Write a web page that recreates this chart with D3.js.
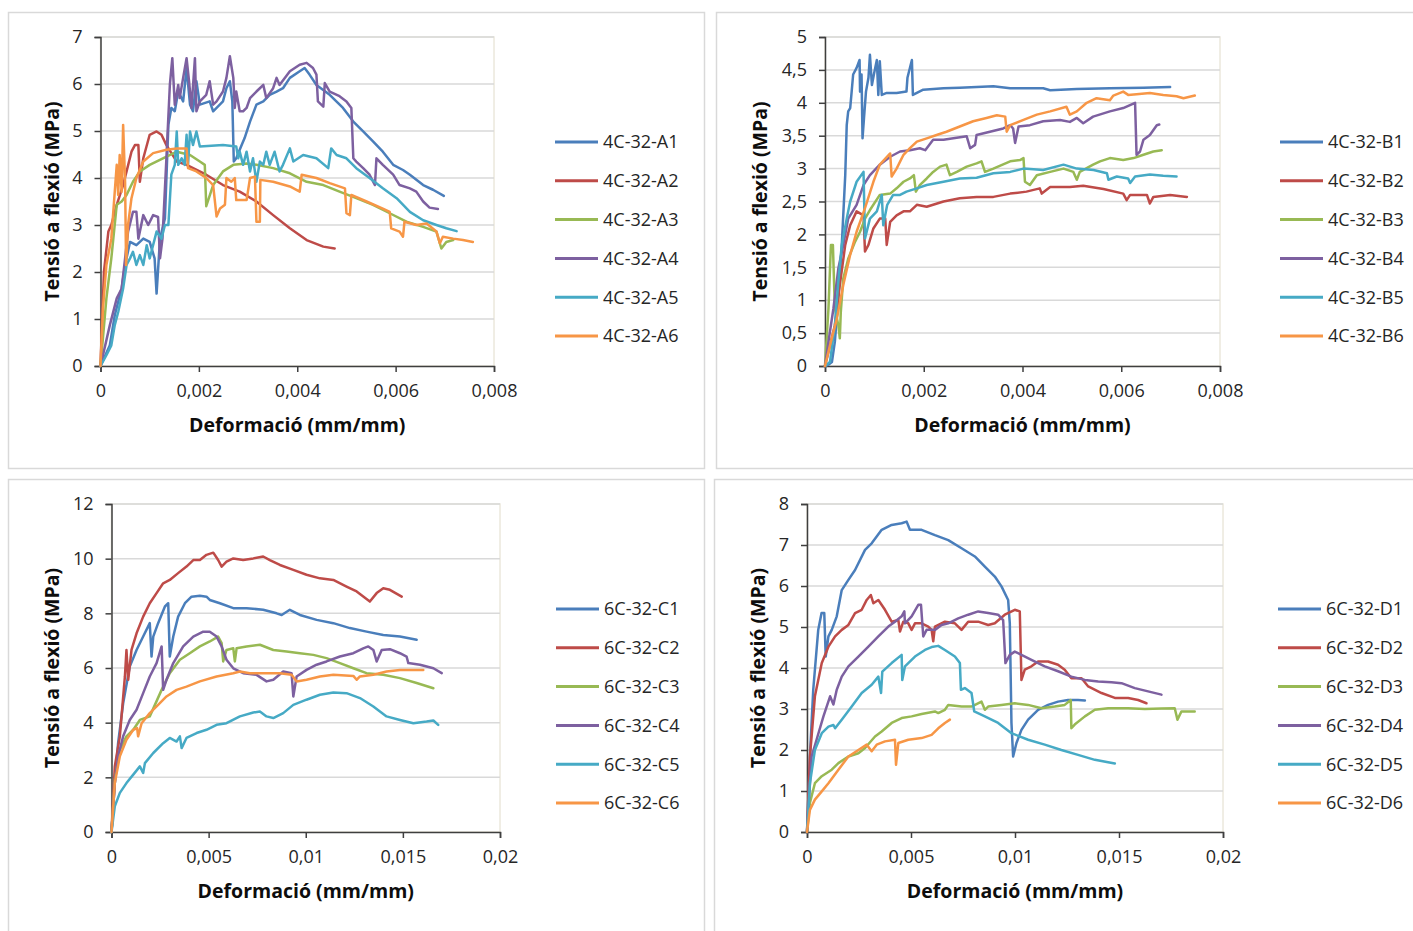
<!DOCTYPE html>
<html>
<head>
<meta charset="utf-8">
<script src="https://cdn.jsdelivr.net/npm/d3@7"></script>
<style>
  html, body { margin: 0; padding: 0; background: #ffffff; }
  svg { display: block; font-family: "Open Sans", "Noto Sans", sans-serif; }
</style>
</head>
<body>
<svg id="chart" width="1413" height="931"></svg>
<script>
// ---------- Series: [strain (mm/mm), flexural stress (MPa)] ----------

// 4C-32-A
const a1 = [[0,0],[0.00019,0.44],[0.00029,1.08],[0.00043,1.65],[0.0005,2.15],[0.0006,2.64],[0.00073,2.57],[0.00087,2.71],[0.001,2.64],[0.0011,2.29],[0.00114,1.54],[0.00121,2.71],[0.00131,3.14],[0.00138,5.13],[0.00144,5.49],[0.00151,5.42],[0.00158,5.84],[0.00168,5.63],[0.00175,6.34],[0.00182,5.56],[0.00188,5.42],[0.00195,6.06],[0.00202,5.56],[0.00222,5.63],[0.00229,5.42],[0.00249,5.63],[0.00256,5.91],[0.00263,6.06],[0.00268,5.63],[0.00271,4.35],[0.00276,4.42],[0.00287,4.7],[0.00293,4.85],[0.00304,5.2],[0.00317,5.56],[0.00331,5.63],[0.00344,5.77],[0.00358,5.84],[0.00371,5.91],[0.00385,6.13],[0.00405,6.27],[0.00415,6.34],[0.00425,6.2],[0.00439,5.98],[0.00466,5.77],[0.00493,5.49],[0.00514,5.2],[0.00534,4.99],[0.00554,4.78],[0.00574,4.56],[0.00595,4.28],[0.00615,4.17],[0.00629,4.07],[0.00656,3.85],[0.00676,3.75],[0.00698,3.62]];
const a2 = [[0,0],[0.00003,0.87],[0.00007,2.0],[0.00016,2.86],[0.00022,3.0],[0.00033,3.43],[0.00046,3.85],[0.00053,4.14],[0.00063,4.56],[0.0007,4.7],[0.00077,4.7],[0.0008,3.92],[0.00087,4.42],[0.001,4.92],[0.00114,4.99],[0.00124,4.92],[0.00134,4.7],[0.00155,4.35],[0.00175,4.28],[0.00215,4.07],[0.00249,3.85],[0.00283,3.71],[0.00317,3.5],[0.00351,3.21],[0.00385,2.93],[0.00419,2.68],[0.00453,2.54],[0.00476,2.5]];
const a3 = [[0,0],[0.00012,1.44],[0.00022,2.29],[0.00033,3.43],[0.00043,3.5],[0.00053,3.64],[0.00066,3.92],[0.0008,4.14],[0.001,4.28],[0.00127,4.42],[0.00155,4.56],[0.00182,4.49],[0.00202,4.35],[0.00212,4.28],[0.00215,3.4],[0.00229,3.85],[0.00249,4.14],[0.0027,4.28],[0.00297,4.31],[0.00317,4.28],[0.00351,4.21],[0.00385,4.1],[0.00419,3.92],[0.00453,3.85],[0.00486,3.71],[0.0052,3.57],[0.00554,3.43],[0.00588,3.25],[0.00622,3.07],[0.00656,2.96],[0.00683,2.86],[0.00693,2.5],[0.00703,2.64],[0.00717,2.68]];
const a4 = [[0,0],[0.00019,0.87],[0.00033,1.44],[0.00043,1.65],[0.0005,2.29],[0.00056,2.86],[0.00066,3.28],[0.00073,3.28],[0.00077,2.71],[0.00087,3.21],[0.00097,3.0],[0.00107,3.21],[0.00117,3.17],[0.00121,2.29],[0.00126,2.71],[0.00134,4.42],[0.00141,5.98],[0.00146,6.55],[0.00151,5.56],[0.00158,5.98],[0.00161,5.7],[0.00168,6.13],[0.00175,6.55],[0.0018,6.06],[0.00185,5.49],[0.00192,6.55],[0.00195,5.42],[0.00202,5.63],[0.00215,5.77],[0.00222,6.06],[0.00229,5.56],[0.00236,5.63],[0.00249,5.84],[0.00256,6.13],[0.00263,6.59],[0.0027,6.13],[0.00273,5.49],[0.00276,5.84],[0.00283,5.42],[0.0029,5.42],[0.00297,5.49],[0.00304,5.7],[0.00317,5.84],[0.00324,5.91],[0.00331,5.98],[0.00337,5.7],[0.00351,5.91],[0.00358,6.13],[0.00364,5.98],[0.00385,6.27],[0.00405,6.41],[0.00419,6.45],[0.00432,6.34],[0.00439,6.2],[0.00442,5.63],[0.00453,5.52],[0.00456,6.02],[0.00466,5.84],[0.00486,5.74],[0.005,5.63],[0.0051,5.49],[0.00514,4.42],[0.0052,4.35],[0.00534,4.21],[0.00547,4.07],[0.00558,3.85],[0.00561,4.42],[0.00574,4.28],[0.00595,4.07],[0.00608,3.85],[0.00629,3.78],[0.00642,3.71],[0.00656,3.5],[0.00669,3.37],[0.00686,3.34]];
const a5 = [[0,0],[0.00012,0.23],[0.00022,0.44],[0.00029,0.87],[0.00036,1.15],[0.00046,1.65],[0.00053,2.15],[0.0006,2.29],[0.00066,2.43],[0.00073,2.15],[0.0008,2.36],[0.00087,2.15],[0.00094,2.57],[0.001,2.29],[0.00114,2.86],[0.00124,2.71],[0.00131,3.0],[0.00138,3.0],[0.00144,4.07],[0.00151,4.28],[0.00155,4.99],[0.00158,4.28],[0.00165,4.42],[0.00171,4.28],[0.00175,4.92],[0.00178,4.28],[0.00182,4.99],[0.00188,4.7],[0.00195,4.99],[0.00202,4.67],[0.00249,4.7],[0.00276,4.67],[0.0028,4.42],[0.00283,4.56],[0.0029,4.28],[0.00297,4.56],[0.00304,4.14],[0.0031,4.42],[0.00317,3.92],[0.00324,4.35],[0.00331,4.28],[0.00337,4.56],[0.00344,4.28],[0.00354,4.56],[0.00364,4.14],[0.00371,4.28],[0.00385,4.63],[0.00392,4.35],[0.00412,4.49],[0.00439,4.42],[0.00463,4.21],[0.00469,4.63],[0.0048,4.49],[0.005,4.42],[0.0052,4.21],[0.00547,4.0],[0.00574,3.78],[0.00602,3.57],[0.00629,3.28],[0.00656,3.1],[0.00683,3.0],[0.00703,2.93],[0.00724,2.87]];
const a6 = [[0,0],[0.00005,1.22],[0.00012,2.15],[0.00022,2.71],[0.00029,3.71],[0.00033,4.28],[0.00036,3.64],[0.00039,4.49],[0.00043,3.71],[0.00046,5.13],[0.0005,3.92],[0.00052,2.15],[0.00056,3.0],[0.00063,3.57],[0.00073,4.0],[0.00087,4.35],[0.00107,4.53],[0.00134,4.6],[0.00155,4.63],[0.00175,4.63],[0.00178,4.21],[0.00195,4.14],[0.00215,4.0],[0.00229,3.85],[0.00236,3.18],[0.00243,3.35],[0.00253,3.43],[0.00256,4.0],[0.00266,3.92],[0.00273,4.0],[0.00276,3.53],[0.00297,3.53],[0.00304,4.0],[0.00314,4.03],[0.00317,3.07],[0.00324,3.07],[0.00325,3.96],[0.00351,3.92],[0.00385,3.82],[0.00405,3.71],[0.00409,4.07],[0.00439,4.0],[0.00466,3.89],[0.00497,3.78],[0.005,3.25],[0.00507,3.21],[0.0051,3.64],[0.00541,3.5],[0.00574,3.35],[0.00588,3.28],[0.00591,2.93],[0.00608,2.86],[0.00615,2.75],[0.00618,3.07],[0.00642,3.0],[0.00663,3.03],[0.00683,2.86],[0.0069,2.61],[0.00696,2.75],[0.00717,2.71],[0.00737,2.68],[0.00757,2.64]];

// 4C-32-B
const b1 = [[0,0],[0.00007,0.02],[0.00014,0.06],[0.0002,0.37],[0.00027,1.03],[0.00034,1.84],[0.00041,2.9],[0.00044,3.66],[0.00047,3.87],[0.00051,3.92],[0.00054,4.17],[0.00057,4.43],[0.00064,4.53],[0.0007,4.65],[0.00071,4.17],[0.00074,4.43],[0.00076,3.46],[0.00079,3.77],[0.00083,4.17],[0.00088,4.38],[0.00091,4.73],[0.00095,4.27],[0.00099,4.43],[0.00105,4.65],[0.00108,4.12],[0.00111,4.63],[0.00115,4.12],[0.00125,4.15],[0.00145,4.15],[0.00165,4.17],[0.00167,4.38],[0.00176,4.65],[0.00178,4.12],[0.00199,4.2],[0.0024,4.22],[0.00273,4.23],[0.00341,4.25],[0.00375,4.22],[0.00442,4.22],[0.00456,4.19],[0.0051,4.21],[0.00577,4.22],[0.00645,4.23],[0.00699,4.24]];
const b2 = [[0,0],[0.0001,0.31],[0.0002,0.62],[0.0003,1.23],[0.00041,1.84],[0.00051,2.14],[0.00064,2.35],[0.00078,2.29],[0.00081,1.74],[0.00088,1.84],[0.00098,2.09],[0.00111,2.24],[0.00122,2.24],[0.00125,1.84],[0.00132,2.19],[0.00145,2.29],[0.00159,2.35],[0.00172,2.35],[0.00186,2.45],[0.00206,2.42],[0.0024,2.5],[0.00273,2.55],[0.00307,2.57],[0.00341,2.57],[0.00375,2.62],[0.00408,2.65],[0.00435,2.7],[0.00439,2.62],[0.00456,2.72],[0.00496,2.72],[0.00523,2.74],[0.00564,2.69],[0.00604,2.62],[0.00611,2.52],[0.00618,2.6],[0.00652,2.6],[0.00658,2.47],[0.00665,2.57],[0.00699,2.6],[0.00733,2.57]];
const b3 = [[0,0],[0.00007,0.87],[0.00012,1.84],[0.00016,1.84],[0.0002,0.87],[0.00027,0.62],[0.0003,0.42],[0.00032,0.82],[0.00037,1.33],[0.00047,1.63],[0.00061,1.89],[0.00071,2.04],[0.00081,2.24],[0.00091,2.37],[0.00111,2.6],[0.00132,2.62],[0.00145,2.7],[0.00159,2.8],[0.00172,2.85],[0.0018,2.9],[0.00184,2.65],[0.00192,2.75],[0.00206,2.85],[0.00219,2.95],[0.00233,3.03],[0.00246,3.06],[0.00253,2.9],[0.00267,2.95],[0.00287,3.03],[0.00307,3.08],[0.00317,3.11],[0.00324,2.95],[0.00341,3.0],[0.00375,3.11],[0.00395,3.13],[0.00402,3.16],[0.00405,2.8],[0.00415,2.75],[0.00429,2.9],[0.00456,2.95],[0.00483,3.0],[0.00503,2.95],[0.0051,2.83],[0.00516,2.95],[0.00543,3.06],[0.00557,3.11],[0.00577,3.16],[0.00604,3.13],[0.00625,3.16],[0.00645,3.21],[0.00665,3.26],[0.00682,3.28]];
const b4 = [[0,0],[0.00007,0.37],[0.00017,0.87],[0.00027,1.48],[0.00037,1.84],[0.00047,2.24],[0.00064,2.45],[0.00078,2.75],[0.00091,2.9],[0.00111,3.06],[0.00132,3.18],[0.00152,3.26],[0.00172,3.28],[0.00192,3.31],[0.00203,3.28],[0.00219,3.44],[0.0024,3.44],[0.0026,3.46],[0.00287,3.49],[0.00294,3.31],[0.00304,3.36],[0.00307,3.51],[0.00334,3.56],[0.00361,3.61],[0.00375,3.66],[0.00381,3.61],[0.00385,3.39],[0.00392,3.64],[0.00415,3.66],[0.00442,3.72],[0.00476,3.74],[0.00496,3.71],[0.0051,3.77],[0.00523,3.69],[0.00543,3.79],[0.00577,3.87],[0.00604,3.92],[0.00628,4.0],[0.00631,3.21],[0.00638,3.26],[0.00645,3.44],[0.00658,3.51],[0.00672,3.66],[0.00677,3.67]];
const b5 = [[0,0],[0.0001,0.06],[0.0002,0.62],[0.00027,1.28],[0.00034,1.84],[0.00044,2.24],[0.00051,2.5],[0.00064,2.8],[0.00078,2.95],[0.00081,1.94],[0.00091,2.24],[0.00105,2.35],[0.00115,2.6],[0.00118,2.14],[0.00126,2.45],[0.00138,2.6],[0.00152,2.6],[0.00165,2.65],[0.00186,2.7],[0.00206,2.75],[0.0024,2.8],[0.00273,2.85],[0.00307,2.86],[0.00341,2.93],[0.00375,2.95],[0.00402,3.0],[0.00442,2.98],[0.00483,3.06],[0.0051,3.0],[0.00544,2.98],[0.00571,2.93],[0.00574,2.83],[0.00591,2.88],[0.00614,2.85],[0.00618,2.78],[0.00628,2.88],[0.00658,2.91],[0.00685,2.89],[0.00712,2.88]];
const b6 = [[0,0],[0.0001,0.31],[0.00024,0.72],[0.00037,1.23],[0.00051,1.69],[0.00064,2.04],[0.00081,2.4],[0.00098,2.8],[0.00111,3.06],[0.00132,3.23],[0.00135,2.88],[0.00145,3.0],[0.00159,3.21],[0.00172,3.31],[0.00186,3.41],[0.00206,3.46],[0.00226,3.51],[0.00246,3.56],[0.00273,3.64],[0.003,3.72],[0.00327,3.77],[0.00348,3.81],[0.00365,3.79],[0.00368,3.56],[0.00375,3.66],[0.00402,3.74],[0.00429,3.82],[0.00456,3.87],[0.00489,3.94],[0.00496,3.82],[0.0051,3.87],[0.0053,4.0],[0.0055,4.07],[0.00577,4.04],[0.00584,4.11],[0.00604,4.17],[0.00614,4.12],[0.00631,4.13],[0.00658,4.15],[0.00685,4.12],[0.00712,4.1],[0.00726,4.07],[0.00749,4.11]];

// 6C-32-C
const c1 = [[0,0],[0.00017,1.79],[0.00034,3.25],[0.0006,4.71],[0.00094,6.05],[0.00129,6.66],[0.00163,7.15],[0.00197,7.64],[0.00206,6.42],[0.00215,7.15],[0.0024,7.64],[0.00275,8.25],[0.00292,8.37],[0.003,6.42],[0.00318,7.15],[0.00343,7.88],[0.00378,8.37],[0.00412,8.61],[0.00455,8.64],[0.00489,8.61],[0.00506,8.49],[0.00558,8.37],[0.00627,8.19],[0.00695,8.19],[0.00781,8.13],[0.0085,8.0],[0.00876,7.94],[0.00918,8.13],[0.0097,7.94],[0.01056,7.76],[0.01142,7.64],[0.01227,7.46],[0.01313,7.33],[0.01399,7.21],[0.01485,7.15],[0.01571,7.03]];
const c2 = [[0,0],[0.00017,2.4],[0.00043,3.5],[0.00069,5.69],[0.00077,6.66],[0.00086,5.57],[0.00103,6.66],[0.00129,7.27],[0.00163,7.88],[0.00197,8.37],[0.00232,8.74],[0.00266,9.1],[0.003,9.22],[0.00343,9.47],[0.00386,9.71],[0.00421,9.95],[0.00455,9.95],[0.00489,10.14],[0.00524,10.22],[0.00549,9.95],[0.00567,9.71],[0.00592,9.89],[0.00627,10.01],[0.00678,9.95],[0.0073,10.01],[0.00781,10.08],[0.00815,9.95],[0.00867,9.77],[0.00936,9.59],[0.01004,9.41],[0.01073,9.28],[0.01142,9.22],[0.0121,8.98],[0.01262,8.8],[0.0133,8.43],[0.01365,8.74],[0.01399,8.92],[0.01433,8.86],[0.01494,8.61]];
const c3 = [[0,0],[0.00017,1.91],[0.00043,3.0],[0.00077,3.5],[0.00112,3.74],[0.00146,4.1],[0.00197,4.23],[0.00258,5.2],[0.003,5.81],[0.00352,6.3],[0.00403,6.54],[0.00455,6.79],[0.00506,6.97],[0.00549,7.15],[0.00567,6.91],[0.00575,6.24],[0.00592,6.66],[0.00627,6.72],[0.00635,6.24],[0.00644,6.72],[0.00695,6.79],[0.00764,6.85],[0.00833,6.66],[0.00901,6.6],[0.0097,6.54],[0.01039,6.48],[0.01107,6.36],[0.01176,6.18],[0.01245,5.99],[0.01313,5.81],[0.01399,5.75],[0.01485,5.63],[0.01571,5.45],[0.01657,5.26]];
const c4 = [[0,0],[0.00017,1.79],[0.00034,2.77],[0.0006,3.5],[0.00094,4.1],[0.00129,4.47],[0.00163,5.08],[0.00197,5.69],[0.00232,6.18],[0.00258,6.79],[0.00266,5.2],[0.00283,5.57],[0.00318,6.18],[0.00369,6.79],[0.00421,7.15],[0.00472,7.33],[0.00506,7.33],[0.00541,7.15],[0.00567,6.79],[0.00592,6.3],[0.00627,5.99],[0.00678,5.81],[0.00747,5.75],[0.00798,5.51],[0.00833,5.57],[0.00884,5.87],[0.00927,5.81],[0.00936,4.96],[0.00953,5.69],[0.01004,5.93],[0.01056,6.12],[0.01107,6.24],[0.01176,6.42],[0.01245,6.54],[0.01296,6.72],[0.01322,6.79],[0.01348,6.66],[0.01365,6.24],[0.01391,6.66],[0.01433,6.69],[0.01485,6.54],[0.01519,6.42],[0.01528,6.18],[0.01588,6.12],[0.01657,5.99],[0.017,5.81]];
const c5 = [[0,0],[0.00017,0.94],[0.00043,1.43],[0.00077,1.79],[0.00112,2.1],[0.00146,2.4],[0.00163,2.16],[0.00172,2.52],[0.00215,2.89],[0.00266,3.25],[0.003,3.44],[0.00335,3.31],[0.00352,3.5],[0.00361,3.07],[0.00386,3.44],[0.00438,3.62],[0.00489,3.74],[0.00541,3.92],[0.00592,3.98],[0.00661,4.23],[0.0073,4.37],[0.00764,4.41],[0.00798,4.23],[0.00833,4.17],[0.00884,4.35],[0.00936,4.65],[0.01004,4.84],[0.01073,5.02],[0.01142,5.1],[0.0121,5.08],[0.01279,4.9],[0.01348,4.59],[0.01416,4.23],[0.01485,4.1],[0.01554,3.98],[0.01622,4.04],[0.01657,4.08],[0.01682,3.92]];
const c6 = [[0,0],[0.00017,1.79],[0.00043,2.77],[0.00077,3.37],[0.00112,3.74],[0.00132,3.8],[0.00137,3.5],[0.00155,3.98],[0.00197,4.35],[0.0024,4.65],[0.00283,4.96],[0.00335,5.2],[0.00386,5.32],[0.00455,5.51],[0.00541,5.69],[0.00627,5.81],[0.00661,5.87],[0.00712,5.81],[0.00798,5.81],[0.00867,5.81],[0.00927,5.75],[0.00953,5.51],[0.01004,5.57],[0.01073,5.69],[0.01142,5.75],[0.01245,5.71],[0.01262,5.57],[0.01279,5.69],[0.01348,5.75],[0.01416,5.87],[0.01485,5.93],[0.01605,5.93]];

// 6C-32-D
const d1 = [[0,0],[0.00014,1.84],[0.0003,3.47],[0.00054,4.93],[0.0007,5.34],[0.00083,5.34],[0.0009,4.28],[0.00103,4.77],[0.00119,4.93],[0.00143,5.26],[0.00167,5.9],[0.00199,6.15],[0.00231,6.39],[0.00279,6.88],[0.00311,7.04],[0.00359,7.37],[0.00407,7.49],[0.00455,7.53],[0.00479,7.57],[0.00495,7.37],[0.00551,7.37],[0.00615,7.24],[0.00679,7.12],[0.00743,6.92],[0.00807,6.72],[0.00855,6.47],[0.00903,6.23],[0.00935,5.99],[0.00967,5.66],[0.00975,5.09],[0.00983,2.66],[0.00991,1.84],[0.01007,2.17],[0.01031,2.49],[0.01063,2.74],[0.01111,2.98],[0.01159,3.1],[0.01207,3.18],[0.01255,3.22],[0.01303,3.22],[0.01336,3.21]];
const d2 = [[0,0],[0.00014,1.84],[0.00038,3.31],[0.00071,4.12],[0.00103,4.52],[0.00135,4.77],[0.00167,4.93],[0.00199,5.05],[0.00231,5.34],[0.00263,5.42],[0.00287,5.66],[0.00307,5.78],[0.00319,5.58],[0.00343,5.66],[0.00375,5.42],[0.00407,5.13],[0.00439,5.17],[0.00447,4.89],[0.00463,5.13],[0.00487,5.09],[0.00503,4.93],[0.00519,5.09],[0.00551,5.09],[0.00583,5.01],[0.00599,4.93],[0.00607,4.65],[0.00615,5.01],[0.00663,5.13],[0.00711,5.09],[0.00743,4.93],[0.00775,5.13],[0.00823,5.13],[0.00871,5.05],[0.00903,5.09],[0.00951,5.3],[0.00999,5.42],[0.01023,5.38],[0.01031,3.71],[0.01047,3.96],[0.01079,4.04],[0.01111,4.16],[0.01159,4.16],[0.01207,4.08],[0.01239,3.96],[0.01271,3.75],[0.0132,3.75],[0.01352,3.55],[0.01416,3.39],[0.0148,3.27],[0.01544,3.27],[0.01592,3.22],[0.01632,3.14]];
const d3s = [[0,0],[0.00014,0.71],[0.00038,1.19],[0.00071,1.36],[0.00119,1.52],[0.00151,1.68],[0.00199,1.84],[0.00247,1.92],[0.00279,2.05],[0.00327,2.33],[0.00359,2.45],[0.00407,2.66],[0.00455,2.78],[0.00503,2.82],[0.00551,2.88],[0.00615,2.94],[0.00631,2.9],[0.00663,2.98],[0.00679,3.1],[0.00743,3.06],[0.00791,3.06],[0.00839,3.18],[0.00855,2.98],[0.00871,3.06],[0.00935,3.1],[0.00999,3.14],[0.01063,3.1],[0.01127,3.02],[0.01191,3.06],[0.01239,3.1],[0.01268,3.22],[0.01271,2.53],[0.01287,2.62],[0.01336,2.82],[0.01384,2.98],[0.01448,3.02],[0.01544,3.02],[0.01624,3.0],[0.01704,3.01],[0.01768,3.02],[0.01781,2.74],[0.018,2.94],[0.01864,2.94]];
const d4 = [[0,0],[0.00022,1.84],[0.00046,2.25],[0.00079,2.82],[0.00111,3.31],[0.00127,3.11],[0.00143,3.47],[0.00167,3.79],[0.00199,4.04],[0.00247,4.28],[0.00295,4.52],[0.00343,4.77],[0.00391,5.01],[0.00423,5.13],[0.00455,5.26],[0.00468,5.38],[0.00471,5.09],[0.00503,5.26],[0.00535,5.54],[0.00548,5.54],[0.00559,4.77],[0.00575,4.93],[0.00615,4.93],[0.00647,5.05],[0.00679,5.09],[0.00727,5.21],[0.00775,5.3],[0.00823,5.38],[0.00871,5.34],[0.00919,5.3],[0.00943,5.17],[0.00954,4.12],[0.00975,4.32],[0.00999,4.4],[0.01031,4.32],[0.01079,4.2],[0.01143,4.04],[0.01207,3.92],[0.01271,3.79],[0.01336,3.71],[0.014,3.67],[0.01464,3.65],[0.01512,3.63],[0.01576,3.51],[0.0164,3.43],[0.01704,3.35]];
const d5 = [[0,0],[0.00014,1.19],[0.00038,2.0],[0.00071,2.41],[0.00103,2.57],[0.00127,2.61],[0.00135,2.53],[0.00167,2.74],[0.00215,3.06],[0.00263,3.39],[0.00311,3.59],[0.00343,3.79],[0.00356,3.39],[0.00362,3.91],[0.00407,4.12],[0.00455,4.32],[0.00458,3.71],[0.00471,4.04],[0.00519,4.28],[0.00567,4.44],[0.00599,4.51],[0.00631,4.54],[0.00663,4.44],[0.00711,4.28],[0.00735,4.12],[0.0074,3.47],[0.00759,3.51],[0.00791,3.39],[0.00804,2.94],[0.00855,2.82],[0.00919,2.66],[0.00983,2.41],[0.01063,2.25],[0.01143,2.13],[0.01223,2.0],[0.01303,1.88],[0.01384,1.76],[0.0148,1.67]];
const d6 = [[0,0],[0.00014,0.54],[0.00038,0.79],[0.00071,0.99],[0.00103,1.19],[0.00151,1.52],[0.00199,1.84],[0.00247,2.0],[0.00287,2.13],[0.00311,1.97],[0.00335,2.13],[0.00375,2.21],[0.00423,2.25],[0.00428,1.64],[0.00439,2.17],[0.00487,2.25],[0.00551,2.29],[0.00599,2.37],[0.00631,2.53],[0.00663,2.66],[0.00687,2.74]];

// ---------- Labels and ticks ----------
const namesA = ["4C-32-A1", "4C-32-A2", "4C-32-A3", "4C-32-A4", "4C-32-A5", "4C-32-A6"];
const namesB = ["4C-32-B1", "4C-32-B2", "4C-32-B3", "4C-32-B4", "4C-32-B5", "4C-32-B6"];
const namesC = ["6C-32-C1", "6C-32-C2", "6C-32-C3", "6C-32-C4", "6C-32-C5", "6C-32-C6"];
const namesD = ["6C-32-D1", "6C-32-D2", "6C-32-D3", "6C-32-D4", "6C-32-D5", "6C-32-D6"];

const xTicksSmall = [0, 0.002, 0.004, 0.006, 0.008];
const xTicksLarge = [0, 0.005, 0.01, 0.015, 0.02];
const yTicksA = [0, 1, 2, 3, 4, 5, 6, 7];
const yTicksB = [0, 0.5, 1, 1.5, 2, 2.5, 3, 3.5, 4, 4.5, 5];
const yTicksC = [0, 2, 4, 6, 8, 10, 12];
const yTicksD = [0, 1, 2, 3, 4, 5, 6, 7, 8];

const xTitle = "Deformació (mm/mm)";
const yTitle = "Tensió a flexió (MPa)";

// ---------- Styling ----------
const colors = ["#4A7EBB", "#BE4B48", "#98B954", "#7D60A0", "#46AAC5", "#F79646"];
const catalan = d3.formatLocale({ decimal: ",", thousands: ".", grouping: [3], currency: ["", " €"] });
const fmt = catalan.format("~f");

// Panel layout (pixel frames) paired with the data above
const panels = [
  { frame: [8, 12, 696, 456],  plot: { l: 100.5, r: 494, t: 37, b: 366 },
    xTicks: xTicksSmall, yTicks: yTicksA, names: namesA, series: [a1, a2, a3, a4, a5, a6],
    legend: { x: 555, y: 142 } },
  { frame: [716, 12, 710, 456], plot: { l: 825, r: 1220, t: 37, b: 366 },
    xTicks: xTicksSmall, yTicks: yTicksB, names: namesB, series: [b1, b2, b3, b4, b5, b6],
    legend: { x: 1280, y: 142 } },
  { frame: [8, 479, 696, 470], plot: { l: 111.5, r: 500, t: 504, b: 832 },
    xTicks: xTicksLarge, yTicks: yTicksC, names: namesC, series: [c1, c2, c3, c4, c5, c6],
    legend: { x: 556, y: 609 } },
  { frame: [714, 479, 712, 470], plot: { l: 807, r: 1223, t: 504, b: 832 },
    xTicks: xTicksLarge, yTicks: yTicksD, names: namesD, series: [d1, d2, d3s, d4, d5, d6],
    legend: { x: 1278, y: 609 } }
];

const svg = d3.select("#chart");
svg.append("rect").attr("width", 1413).attr("height", 931).attr("fill", "#ffffff");

panels.forEach(p => {
  const g = svg.append("g");
  const [fx, fy, fw, fh] = p.frame;

  // chart frame
  g.append("rect")
    .attr("x", fx + 0.5).attr("y", fy + 0.5)
    .attr("width", fw).attr("height", fh)
    .attr("fill", "#ffffff").attr("stroke", "#d9d9d9").attr("stroke-width", 1.5);

  const x = d3.scaleLinear()
    .domain(d3.extent(p.xTicks))
    .range([p.plot.l, p.plot.r]);
  const y = d3.scaleLinear()
    .domain(d3.extent(p.yTicks))
    .range([p.plot.b, p.plot.t]);

  // plot-area outline
  g.append("rect")
    .attr("x", p.plot.l).attr("y", p.plot.t)
    .attr("width", p.plot.r - p.plot.l).attr("height", p.plot.b - p.plot.t)
    .attr("fill", "none").attr("stroke", "#ebe8dc").attr("stroke-width", 1.5);

  // horizontal gridlines
  g.append("g").selectAll("line")
    .data(p.yTicks.filter(v => v > 0))
    .join("line")
    .attr("x1", p.plot.l).attr("x2", p.plot.r)
    .attr("y1", d => y(d)).attr("y2", d => y(d))
    .attr("stroke", "#d9d9d9").attr("stroke-width", 1.5);

  // axes
  const xAxis = d3.axisBottom(x).tickValues(p.xTicks).tickFormat(fmt).tickSize(6).tickPadding(12);
  const yAxis = d3.axisLeft(y).tickValues(p.yTicks).tickFormat(fmt).tickSize(6).tickPadding(12);

  const gx = g.append("g").attr("transform", `translate(0,${p.plot.b})`).call(xAxis);
  const gy = g.append("g").attr("transform", `translate(${p.plot.l},0)`).call(yAxis);
  [gx, gy].forEach(ax => {
    ax.select(".domain").attr("stroke", "#3f3f3f").attr("stroke-width", 1.5);
    ax.selectAll(".tick line").attr("stroke", "#3f3f3f").attr("stroke-width", 1.5);
    ax.selectAll(".tick text")
      .attr("fill", "#262626")
      .style("font-family", "'Open Sans', sans-serif")
      .style("font-size", "18px");
  });

  // series lines (first series underneath, last on top)
  const line = d3.line().x(d => x(d[0])).y(d => y(d[1]));
  g.append("g").selectAll("path")
    .data(p.series)
    .join("path")
    .attr("d", line)
    .attr("fill", "none")
    .attr("stroke", (d, i) => colors[i])
    .attr("stroke-width", 2.5)
    .attr("stroke-linejoin", "round")
    .attr("stroke-linecap", "round");

  // axis titles
  g.append("text")
    .attr("x", (p.plot.l + p.plot.r) / 2)
    .attr("y", p.plot.b + 66)
    .attr("text-anchor", "middle")
    .attr("fill", "#0d0d0d")
    .style("font-size", "19.5px").style("font-weight", "bold")
    .text(xTitle);

  g.append("text")
    .attr("transform", `translate(${fx + 51},${(p.plot.t + p.plot.b) / 2}) rotate(-90)`)
    .attr("text-anchor", "middle")
    .attr("fill", "#0d0d0d")
    .style("font-size", "19.5px").style("font-weight", "bold")
    .text(yTitle);

  // legend
  const leg = g.append("g").attr("transform", `translate(${p.legend.x},${p.legend.y})`);
  const rows = leg.selectAll("g").data(p.names).join("g")
    .attr("transform", (d, i) => `translate(0,${i * 38.8})`);
  rows.append("line")
    .attr("x1", 0).attr("x2", 43).attr("y1", 0).attr("y2", 0)
    .attr("stroke", (d, i) => colors[i]).attr("stroke-width", 3);
  rows.append("text")
    .attr("x", 48).attr("y", 0).attr("dy", "0.35em")
    .attr("fill", "#262626")
    .style("font-size", "18px")
    .text(d => d);
});
</script>
</body>
</html>
